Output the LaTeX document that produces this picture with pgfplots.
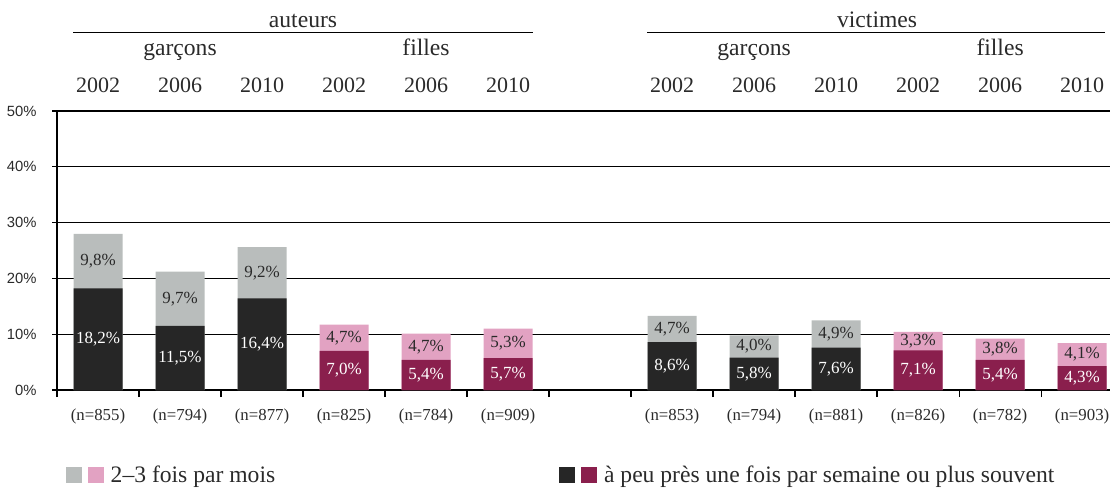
\documentclass[border=0pt]{standalone}
\usepackage{fontspec}
\setmainfont{Liberation Serif}
\setsansfont{Liberation Sans}
\usepackage{pgfplots}
\pgfplotsset{compat=1.18}
\definecolor{dgray}{HTML}{262626}
\definecolor{lgray}{HTML}{B9BDBC}
\definecolor{dpink}{HTML}{8A1F4D}
\definecolor{lpink}{HTML}{E2A2C2}
\definecolor{txt}{HTML}{2A2A2A}
\begin{document}
\begin{tikzpicture}
\useasboundingbox (-28.5pt,-49pt) rectangle (526.5pt,195pt);
\begin{axis}[
  at={(0pt,0pt)}, anchor=south west,
  scale only axis, width=526.5pt, height=139.5pt,
  xmin=-0.5, xmax=12.34, ymin=0, ymax=50,
  clip=false,
  axis lines*=left,
  axis line style={line width=0.6pt, black},
  ymajorgrids, grid style={line width=0.6pt, black},
  tick align=outside,
  ytick={0,10,20,30,40,50},
  yticklabels={0\%,10\%,20\%,30\%,40\%,50\%},
  yticklabel style={font=\sffamily\fontsize{7.4}{8}\selectfont, text=txt, anchor=east, inner sep=0pt, xshift=-7.5pt},
  ytick style={line width=0.6pt, black},
  major tick length=2.5pt,
  xtick={0,1,2,3,4,5,7,8,9,10,11,12},
  xticklabels={(n=855),(n=794),(n=877),(n=825),(n=784),(n=909),(n=853),(n=794),(n=881),(n=826),(n=782),(n=903)},
  xticklabel style={font=\fontsize{8.4}{9}\selectfont, text=txt, anchor=base, inner sep=0pt, yshift=-12.5pt},
  xtick style={draw=none},
  extra x ticks={-0.5,0.5,1.5,2.5,3.5,4.5,5.5,6.5,7.5,8.5,9.5,10.5,11.5},
  extra x tick labels={},
  extra x tick style={xtick style={draw=black, line width=0.6pt}, major tick length=3.5pt, grid=none},
  legend style={at={(0.0085,-0.272)}, anchor=north west, draw=none, fill=none,
    inner sep=0pt, outer sep=0pt, legend columns=2,
    nodes={inner sep=0pt, anchor=base west},
    font=\fontsize{11.8}{14}\selectfont, text=txt,
    /tikz/every odd column/.append style={column sep=3.5pt},
    /tikz/every even column/.append style={column sep=142pt}},
]
% light segments drawn to the total height
\addplot[ybar, bar width=24.5pt, bar shift=0pt, draw=none, fill=lgray, forget plot]
  coordinates {(0,28.0) (1,21.2) (2,25.6) (7,13.3) (8,9.8) (9,12.5)};
\addplot[ybar, bar width=24.5pt, bar shift=0pt, draw=none, fill=dgray, forget plot]
  coordinates {(0,18.2) (1,11.5) (2,16.4) (7,8.6) (8,5.8) (9,7.6)};
\addplot[ybar, bar width=24.5pt, bar shift=0pt, draw=none, fill=lpink, forget plot]
  coordinates {(3,11.7) (4,10.1) (5,11.0) (10,10.4) (11,9.2) (12,8.4)};
\addplot[ybar, bar width=24.5pt, bar shift=0pt, draw=none, fill=dpink, forget plot]
  coordinates {(3,7.0) (4,5.4) (5,5.7) (10,7.1) (11,5.4) (12,4.3)};
% labels of the lower segments
\addplot[only marks, mark=none, forget plot, nodes near coords, point meta=explicit symbolic,
  every node near coord/.append style={anchor=center, text=white, font=\fontsize{8.5}{9}\selectfont, inner sep=0pt}]
  table[meta=lab] {
x y lab
0 9.1 {18,2\%}
1 5.75 {11,5\%}
2 8.2 {16,4\%}
3 3.5 {7,0\%}
4 2.7 {5,4\%}
5 2.85 {5,7\%}
7 4.3 {8,6\%}
8 2.9 {5,8\%}
9 3.8 {7,6\%}
10 3.55 {7,1\%}
11 2.7 {5,4\%}
12 2.15 {4,3\%}
};
% labels of the upper segments
\addplot[only marks, mark=none, forget plot, nodes near coords, point meta=explicit symbolic,
  every node near coord/.append style={anchor=center, text=txt, font=\fontsize{8.5}{9}\selectfont, inner sep=0pt}]
  table[meta=lab] {
x y lab
0 23.1 {9,8\%}
1 16.35 {9,7\%}
2 21.0 {9,2\%}
3 9.35 {4,7\%}
4 7.75 {4,7\%}
5 8.35 {5,3\%}
7 10.95 {4,7\%}
8 7.8 {4,0\%}
9 10.05 {4,9\%}
10 8.75 {3,3\%}
11 7.3 {3,8\%}
12 6.35 {4,1\%}
};
\addlegendimage{legend image code/.code={
  \fill[lgray] (0pt,0pt) rectangle (7.5pt,7.5pt);
  \fill[lpink] (11pt,0pt) rectangle (18.5pt,7.5pt);}}
\addlegendentry{2–3 fois par mois}
\addlegendimage{legend image code/.code={
  \fill[dgray] (0pt,0pt) rectangle (7.5pt,7.5pt);
  \fill[dpink] (11pt,0pt) rectangle (18.5pt,7.5pt);}}
\addlegendentry{à peu près une fois par semaine ou plus souvent}
% headers
\begin{scope}[every node/.style={anchor=base, inner sep=0pt, text=txt}]
\node[font=\fontsize{11}{12}\selectfont] at (axis cs:0,53.4) {2002};
\node[font=\fontsize{11}{12}\selectfont] at (axis cs:1,53.4) {2006};
\node[font=\fontsize{11}{12}\selectfont] at (axis cs:2,53.4) {2010};
\node[font=\fontsize{11}{12}\selectfont] at (axis cs:3,53.4) {2002};
\node[font=\fontsize{11}{12}\selectfont] at (axis cs:4,53.4) {2006};
\node[font=\fontsize{11}{12}\selectfont] at (axis cs:5,53.4) {2010};
\node[font=\fontsize{11}{12}\selectfont] at (axis cs:7,53.4) {2002};
\node[font=\fontsize{11}{12}\selectfont] at (axis cs:8,53.4) {2006};
\node[font=\fontsize{11}{12}\selectfont] at (axis cs:9,53.4) {2010};
\node[font=\fontsize{11}{12}\selectfont] at (axis cs:10,53.4) {2002};
\node[font=\fontsize{11}{12}\selectfont] at (axis cs:11,53.4) {2006};
\node[font=\fontsize{11}{12}\selectfont] at (axis cs:12,53.4) {2010};
\node[font=\fontsize{11.8}{14}\selectfont] at (axis cs:1,60.0) {garçons};
\node[font=\fontsize{11.8}{14}\selectfont] at (axis cs:4,60.0) {filles};
\node[font=\fontsize{11.8}{14}\selectfont] at (axis cs:8,60.0) {garçons};
\node[font=\fontsize{11.8}{14}\selectfont] at (axis cs:11,60.0) {filles};
\node[font=\fontsize{11.8}{14}\selectfont] at (axis cs:2.5,65.0) {auteurs};
\node[font=\fontsize{11.8}{14}\selectfont] at (axis cs:9.5,65.0) {victimes};
\end{scope}
\draw[line width=0.6pt] (axis cs:-0.3,64.1) -- (axis cs:5.3,64.1);
\draw[line width=0.6pt] (axis cs:6.7,64.1) -- (axis cs:12.28,64.1);
\end{axis}
\end{tikzpicture}
\end{document}
